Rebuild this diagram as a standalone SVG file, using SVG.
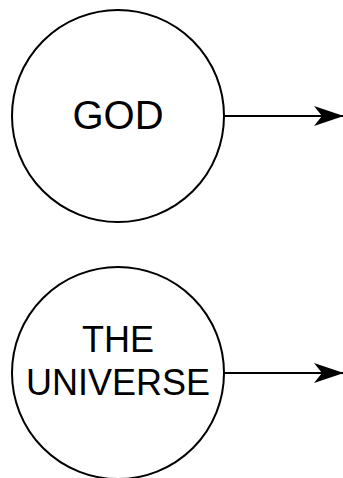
<svg xmlns="http://www.w3.org/2000/svg" width="343" height="478" viewBox="0 0 343 478">
<style>
.node{fill:#fff;stroke:#000;stroke-width:2}
.lbl{font-family:"Liberation Sans",Arial,sans-serif;fill:#000;text-anchor:middle}
.edge{stroke:#000;stroke-width:2;fill:none}
</style>
<defs>
<marker id="arr" markerUnits="userSpaceOnUse" viewBox="0 0 30 22" refX="29" refY="11" markerWidth="30" markerHeight="22" orient="auto">
<path d="M0,1 L30,11 L0,21 L8,11 Z" fill="#000"/>
</marker>
</defs>
<rect width="343" height="478" fill="#fff"/>
<g id="god">
<circle class="node" cx="118" cy="116" r="106"/>
<text class="lbl" x="118" y="129" font-size="40">GOD</text>
</g>
<g id="universe">
<circle class="node" cx="118" cy="373" r="106"/>
<text class="lbl" x="118" y="352" font-size="36">THE</text>
<text class="lbl" x="118" y="395" font-size="36">UNIVERSE</text>
</g>
<g id="connectors">
<line class="edge" x1="224" y1="116" x2="343" y2="116" marker-end="url(#arr)"/>
<line class="edge" x1="224" y1="373" x2="343" y2="373" marker-end="url(#arr)"/>
</g>
</svg>
